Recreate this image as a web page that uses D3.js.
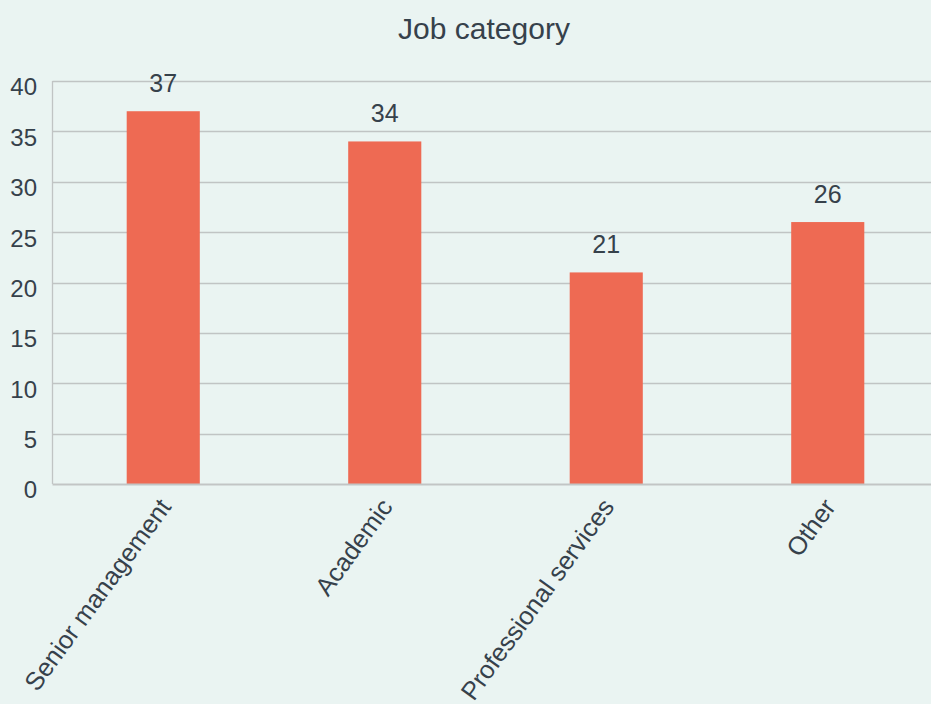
<!DOCTYPE html>
<html>
<head>
<meta charset="utf-8">
<script src="https://cdn.jsdelivr.net/npm/d3@7"></script>
<style>
  html, body { margin: 0; padding: 0; background: #EAF4F2; }
  svg { display: block; }
  text { font-family: "Liberation Sans", Arial, Helvetica, sans-serif; fill: #36414B; }
</style>
</head>
<body>
<svg id="chart" width="931" height="704"></svg>
<script>
// Job category counts
const categories = ["Senior management", "Academic", "Professional services", "Other"];
const counts = [37, 34, 21, 26];
const yTicks = [0, 5, 10, 15, 20, 25, 30, 35, 40];
const title = "Job category";

const W = 931, H = 704;
const plot = { left: 52.5, right: 938.5, top: 81, bottom: 484 };

const svg = d3.select("#chart");
svg.append("rect").attr("width", W).attr("height", H).attr("fill", "#EAF4F2");

const x = d3.scaleBand()
  .domain(categories)
  .range([plot.left, plot.right])
  .paddingInner(0.67)
  .paddingOuter(0.335);

const y = d3.scaleLinear().domain([0, 40]).range([plot.bottom, plot.top]);

// horizontal grid lines
svg.append("g")
  .selectAll("line")
  .data(yTicks.filter(t => t > 0))
  .join("line")
  .attr("x1", plot.left).attr("x2", W)
  .attr("y1", d => Math.round(y(d)) + 0.5).attr("y2", d => Math.round(y(d)) + 0.5)
  .attr("stroke", "#C0C4C4").attr("stroke-width", 1.3);

// y axis line
svg.append("line")
  .attr("x1", plot.left).attr("x2", plot.left)
  .attr("y1", plot.top).attr("y2", plot.bottom)
  .attr("stroke", "#C0C4C4").attr("stroke-width", 1.3);

// y tick labels
svg.append("g")
  .selectAll("text")
  .data(yTicks)
  .join("text")
  .attr("x", 37)
  .attr("y", d => y(d) + 6)
  .attr("dy", "0.35em")
  .attr("text-anchor", "end")
  .attr("font-size", 24)
  .text(d => d);

// bars
svg.append("g")
  .selectAll("rect")
  .data(counts)
  .join("rect")
  .attr("x", (d, i) => x(categories[i]))
  .attr("y", d => y(d))
  .attr("width", x.bandwidth())
  .attr("height", d => y(0) - y(d))
  .attr("fill", "#EE6A53");

// baseline
svg.append("line")
  .attr("x1", plot.left).attr("x2", W)
  .attr("y1", plot.bottom + 0.5).attr("y2", plot.bottom + 0.5)
  .attr("stroke", "#C2C5C5").attr("stroke-width", 2);

// value labels
svg.append("g")
  .selectAll("text")
  .data(counts)
  .join("text")
  .attr("x", (d, i) => x(categories[i]) + x.bandwidth() / 2)
  .attr("y", d => y(d) - 19)
  .attr("text-anchor", "middle")
  .attr("font-size", 25)
  .text(d => d);

// rotated category labels
svg.append("g")
  .selectAll("text")
  .data(categories)
  .join("text")
  .attr("transform", d => `translate(${x(d) + x.bandwidth() / 2 + 9},${plot.bottom + 23}) rotate(-54)`)
  .attr("text-anchor", "end")
  .attr("font-size", 25.5)
  .text(d => d);

// title
svg.append("text")
  .attr("x", 484)
  .attr("y", 39)
  .attr("text-anchor", "middle")
  .attr("font-size", 30)
  .text(title);
</script>
</body>
</html>
